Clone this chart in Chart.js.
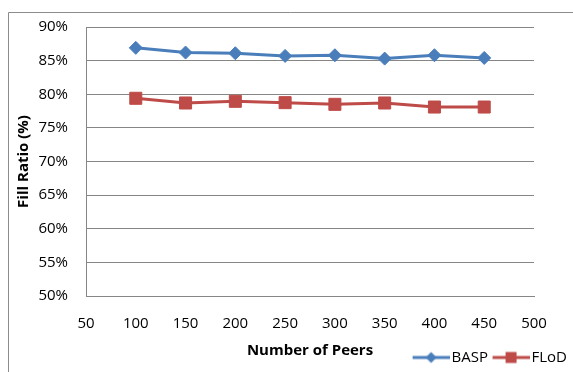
<!DOCTYPE html>
<html>
<head>
<meta charset="utf-8">
<script src="https://cdn.jsdelivr.net/npm/chart.js"></script>
<style>
  body { margin: 0; background: #fff; }
</style>
</head>
<body>
<canvas id="myChart" width="573" height="372"></canvas>
<script>
const peers = [100, 150, 200, 250, 300, 350, 400, 450];
const basp = [86.9, 86.2, 86.1, 85.7, 85.8, 85.3, 85.8, 85.4];
const flod = [79.4, 78.7, 78.95, 78.75, 78.5, 78.7, 78.1, 78.1];
const xRange = [50, 500, 50];   // min, max, step
const yRange = [50, 90, 5];

const blue = '#4a7ebb';
const red = '#be4b48';
const axisGray = '#868686';

Chart.defaults.font.family = "'Open Sans', sans-serif";
Chart.defaults.font.size = 15;
Chart.defaults.color = '#000';

// little line+marker picture for each legend entry
function legendIcon(color, shape) {
  const c = document.createElement('canvas');
  c.width = 41; c.height = 16;
  const g = c.getContext('2d');
  g.strokeStyle = color;
  g.lineWidth = 3;
  g.beginPath(); g.moveTo(4, 8); g.lineTo(41, 8); g.stroke();
  g.fillStyle = color;
  g.beginPath();
  if (shape == 'diamond') {
    g.moveTo(22.5, 2.5); g.lineTo(28, 8); g.lineTo(22.5, 13.5); g.lineTo(17, 8);
    g.closePath();
  } else {
    g.rect(17, 2.5, 11, 11);
  }
  g.fill();
  return c;
}
const icons = [legendIcon(blue, 'diamond'), legendIcon(red, 'square')];

// outer chart frame (left and top edges only show)
const framePlugin = {
  id: 'frame',
  beforeDraw(chart) {
    const ctx = chart.ctx;
    ctx.save();
    ctx.fillStyle = '#fff';
    ctx.fillRect(0, 0, chart.width, chart.height);
    ctx.strokeStyle = '#8c8c8c';
    ctx.lineWidth = 1;
    ctx.beginPath();
    ctx.moveTo(8.5, chart.height);
    ctx.lineTo(8.5, 12.5);
    ctx.lineTo(chart.width, 12.5);
    ctx.stroke();
    ctx.restore();
  }
};

const data = {
  datasets: [{
    label: 'BASP',
    data: peers.map((p, i) => ({x: p, y: basp[i]})),
    borderColor: blue,
    backgroundColor: blue,
    borderWidth: 3,
    pointStyle: 'rectRot',
    pointRadius: 6.5,
    pointBorderWidth: 1
  }, {
    label: 'FLoD',
    data: peers.map((p, i) => ({x: p, y: flod[i]})),
    borderColor: red,
    backgroundColor: red,
    borderWidth: 3,
    pointStyle: 'rect',
    pointRadius: 8.5,
    pointBorderWidth: 1
  }]
};

const config = {
  type: 'line',
  data: data,
  plugins: [framePlugin],
  options: {
    responsive: false,
    animation: false,
    devicePixelRatio: 1,
    layout: { padding: {left: 10, right: 0, top: 24, bottom: -3} },
    elements: { line: { tension: 0 } },
    scales: {
      x: {
        type: 'linear',
        min: xRange[0], max: xRange[1],
        ticks: { stepSize: xRange[2], padding: 19 },
        grid: { display: false, drawTicks: false },
        border: { color: axisGray, width: 1 },
        title: {
          display: true, text: 'Number of Peers',
          font: { weight: 'bold', size: 15 },
          padding: {top: 0, bottom: -16}
        },
        afterFit: s => { s.height = 48; }
      },
      y: {
        min: yRange[0], max: yRange[1],
        ticks: { stepSize: yRange[2], padding: 18, callback: v => v + '%' },
        grid: { color: axisGray, drawTicks: false },
        border: { color: axisGray, width: 1 },
        title: {
          display: true, text: 'Fill Ratio (%)',
          font: { weight: 'bold', size: 15 },
          padding: {top: 5, bottom: 0}
        },
        afterFit: s => { s.width = 76; }
      },
      right: {
        position: 'right',
        min: 0, max: 1,
        ticks: { display: false },
        grid: { display: false },
        border: { display: false },
        afterFit: s => { s.width = 39; }
      }
    },
    plugins: {
      tooltip: { enabled: false },
      legend: {
        position: 'bottom',
        align: 'end',
        labels: {
          usePointStyle: true,
          pointStyleWidth: 30,
          padding: 6,
          font: { size: 15 },
          generateLabels: chart => Chart.defaults.plugins.legend.labels.generateLabels(chart)
            .map((item, i) => Object.assign(item, {pointStyle: icons[i]}))
        }
      }
    }
  }
};

const myChart = new Chart(document.getElementById('myChart').getContext('2d'), config);
</script>
</body>
</html>
